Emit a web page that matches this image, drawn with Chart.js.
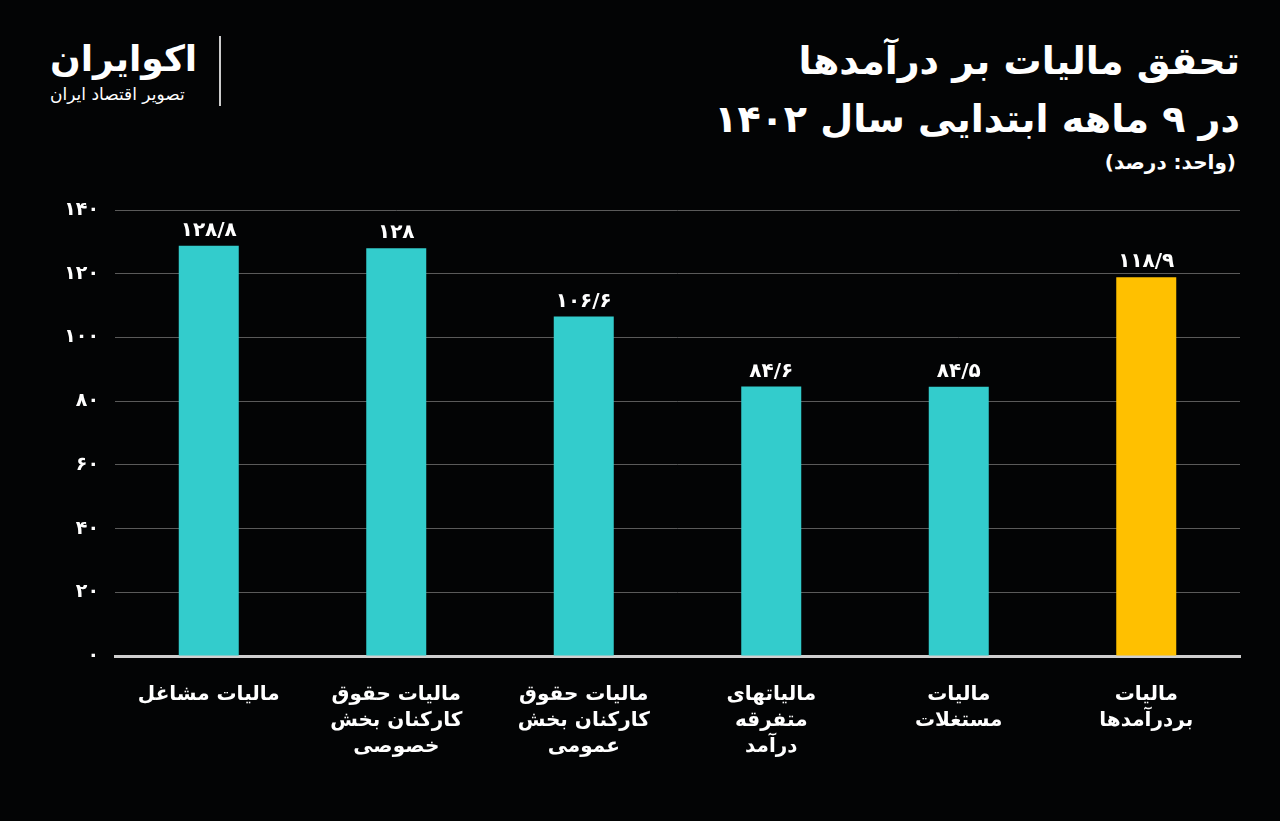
<!DOCTYPE html>
<html lang="fa">
<head>
<meta charset="utf-8">
<script src="https://cdn.jsdelivr.net/npm/chart.js@4"></script>
<style>
  html, body { margin: 0; padding: 0; background: #030405; }
  #wrap { position: relative; width: 1280px; height: 821px; overflow: hidden; }
  #c { position: absolute; left: 0; top: 0; }
  .t { position: absolute; color: #fff; font-family: "DejaVu Sans", "Noto Sans", sans-serif; direction: rtl; }
</style>
</head>
<body>
<div id="wrap">
  <div class="t" style="right:40px;top:32px;font-size:38px;font-weight:bold;text-align:right;line-height:58px;">تحقق مالیات بر درآمدها<br>در ۹ ماهه ابتدایی سال ۱۴۰۲</div>
  <div class="t" style="right:44px;top:150px;font-size:20px;font-weight:bold;">(واحد: درصد)</div>
  <div class="t" style="left:50px;top:38px;font-size:36px;font-weight:bold;">اکوایران</div>
  <div class="t" style="left:50px;top:84px;font-size:17px;">تصویر اقتصاد ایران</div>
  <div style="position:absolute;left:219px;top:36px;width:2px;height:70px;background:#ccc;"></div>
  <canvas id="c" width="1280" height="821"></canvas>
</div>
<script>
const categories = [
  ['مالیات مشاغل'],
  ['مالیات حقوق', 'کارکنان بخش', 'خصوصی'],
  ['مالیات حقوق', 'کارکنان بخش', 'عمومی'],
  ['مالیاتهای', 'متفرقه', 'درآمد'],
  ['مالیات', 'مستغلات'],
  ['مالیات', 'بردرآمدها']
];
const values = [128.8, 128, 106.6, 84.6, 84.5, 118.9];
const barColors = ['#33cccc', '#33cccc', '#33cccc', '#33cccc', '#33cccc', '#ffc000'];
const yTicks = [0, 20, 40, 60, 80, 100, 120, 140];

const faDigits = s => String(s).replace(/\d/g, d => '۰۱۲۳۴۵۶۷۸۹'[d]).replace('.', '/');
const FONT = '"DejaVu Sans", "Noto Sans", sans-serif';

// value labels above bars
const valueLabels = {
  id: 'valueLabels',
  afterDatasetsDraw(chart) {
    const ctx = chart.ctx;
    const meta = chart.getDatasetMeta(0);
    ctx.save();
    ctx.fillStyle = '#fff';
    ctx.font = 'bold 20px ' + FONT;
    ctx.textAlign = 'center';
    ctx.textBaseline = 'bottom';
    meta.data.forEach((bar, i) => {
      ctx.fillText(faDigits(values[i]), bar.x, bar.y - 5);
    });
    ctx.restore();
  }
};

new Chart(document.getElementById('c').getContext('2d'), {
  type: 'bar',
  data: {
    labels: categories,
    datasets: [{
      data: values,
      backgroundColor: barColors,
      borderWidth: 0,
      barPercentage: 0.32,
      categoryPercentage: 1
    }]
  },
  options: {
    responsive: false,
    animation: false,
    layout: { padding: { left: 0, top: 210, right: 40, bottom: 0 } },
    plugins: { legend: { display: false }, tooltip: { enabled: false } },
    scales: {
      x: {
        grid: { display: false },
        border: { color: '#cfcfcf', width: 3 },
        ticks: { color: '#fff', font: { family: FONT, size: 20, weight: 'bold', lineHeight: 1.3 }, padding: 18, maxRotation: 0 },
        afterFit: s => { s.height = 165; }
      },
      y: {
        min: 0, max: 140,
        afterBuildTicks: s => { s.ticks = yTicks.map(v => ({ value: v })); },
        grid: { color: '#5a5a5a', lineWidth: 1, drawTicks: false },
        border: { display: false },
        ticks: { color: '#fff', font: { family: FONT, size: 19, weight: 'bold' }, padding: 16, callback: v => faDigits(v) },
        afterFit: s => { s.width = 115; }
      }
    }
  },
  plugins: [valueLabels]
});
</script>
</body>
</html>
